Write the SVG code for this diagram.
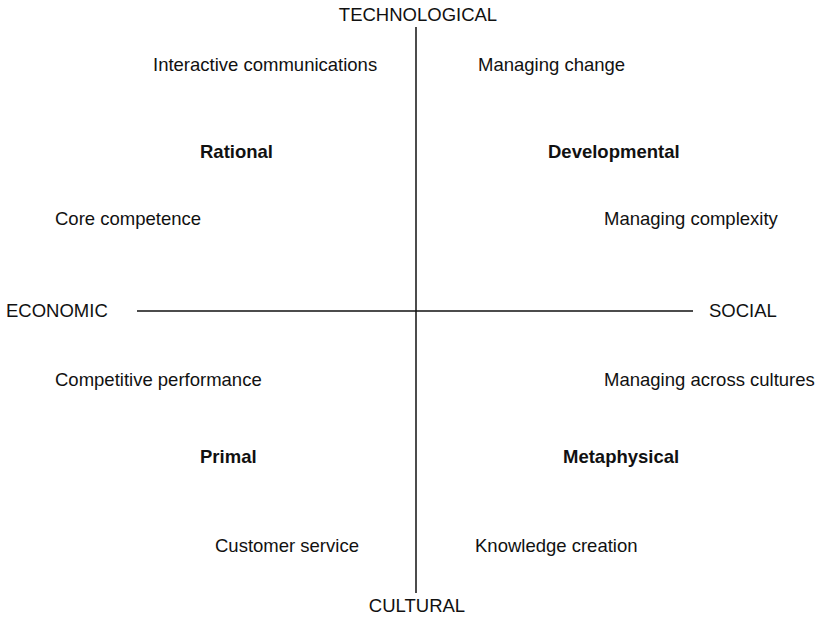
<svg xmlns="http://www.w3.org/2000/svg" width="819" height="625" viewBox="0 0 819 625">
<style>
text{font-family:"Liberation Sans",Arial,sans-serif;font-size:18.5px;fill:#111}
.b{font-weight:bold}
.ax{stroke:#111;stroke-width:1.5;fill:none}
</style>
<rect width="819" height="625" fill="#fff"/>
<g id="connectors">
<line class="ax" x1="416" y1="27" x2="416" y2="593"/>
<line class="ax" x1="137" y1="311" x2="693" y2="311"/>
</g>
<g id="axis-technological"><text x="418" y="21" text-anchor="middle">TECHNOLOGICAL</text></g>
<g id="axis-cultural"><text x="417" y="612" text-anchor="middle">CULTURAL</text></g>
<g id="axis-economic"><text x="6" y="317">ECONOMIC</text></g>
<g id="axis-social"><text x="709" y="317">SOCIAL</text></g>
<g id="q-rational"><text class="b" x="200" y="158">Rational</text></g>
<g id="q-developmental"><text class="b" x="548" y="158">Developmental</text></g>
<g id="q-primal"><text class="b" x="200" y="463">Primal</text></g>
<g id="q-metaphysical"><text class="b" x="563" y="463">Metaphysical</text></g>
<g id="i1"><text x="153" y="71">Interactive communications</text></g>
<g id="i2"><text x="478" y="71">Managing change</text></g>
<g id="i3"><text x="55" y="225">Core competence</text></g>
<g id="i4"><text x="604" y="225">Managing complexity</text></g>
<g id="i5"><text x="55" y="386">Competitive performance</text></g>
<g id="i6"><text x="604" y="386">Managing across cultures</text></g>
<g id="i7"><text x="215" y="552">Customer service</text></g>
<g id="i8"><text x="475" y="552">Knowledge creation</text></g>
</svg>
